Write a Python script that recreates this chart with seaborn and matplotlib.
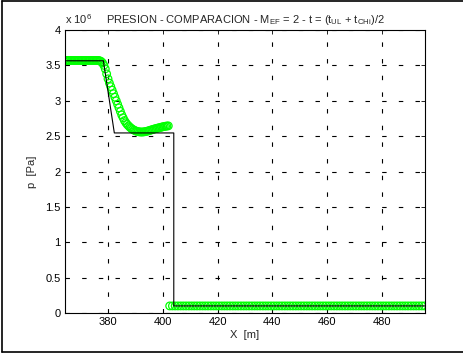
import numpy as np
import pandas as pd
import seaborn as sns
import matplotlib.pyplot as plt
from matplotlib.lines import Line2D

# --- datos (presion en unidades de 1e6 Pa) ---
# solucion exacta (linea negra)
x_exact = [364.3, 378.3, 382.3, 404.0, 404.0, 495.7]
p_exact = [3.565, 3.565, 2.545, 2.545, 0.100, 0.100]

# solucion numerica (circulos verdes), tramo superior
x_num_up = np.arange(364.5, 402.01, 0.5)
p_num_up = [3.57] * 25 + [
    3.565, 3.555, 3.535, 3.50, 3.45, 3.38, 3.31, 3.25, 3.20, 3.15,
    3.10, 3.05, 3.00, 2.95, 2.90, 2.85, 2.80, 2.76, 2.72, 2.69,
    2.665, 2.645, 2.625, 2.61, 2.595, 2.585, 2.575, 2.568, 2.563, 2.560,
    2.558, 2.558, 2.560, 2.563, 2.567, 2.572, 2.578, 2.584, 2.590, 2.596,
    2.602, 2.607, 2.612, 2.617, 2.622, 2.627, 2.632, 2.636, 2.640, 2.643,
    2.645,
]
# tramo inferior (presion constante)
x_num_low = np.arange(402.5, 495.6, 1.0)
p_num_low = [0.10] * len(x_num_low)

x_ticks = [380, 400, 420, 440, 460, 480]
y_ticks = [0, 0.5, 1, 1.5, 2, 2.5, 3, 3.5, 4]
y_ticklabels = ['0', '0.5', '1', '1.5', '2', '2.5', '3', '3.5', '4']

df_exact = pd.DataFrame({'x': x_exact, 'p': p_exact})
df_num = pd.DataFrame({'x': np.concatenate([x_num_up, x_num_low]),
                       'p': list(p_num_up) + list(p_num_low)})

sns.set_theme(style="white")
plt.rcParams['font.family'] = ['Liberation Sans', 'DejaVu Sans']
plt.rcParams['mathtext.fontset'] = 'custom'
plt.rcParams['mathtext.rm'] = 'Liberation Sans'
plt.rcParams['mathtext.it'] = 'Liberation Sans'

fig = plt.figure(figsize=(4.63, 3.53), dpi=100)
ax = fig.add_axes([0.1404, 0.1133, 0.7776, 0.8017])

sns.scatterplot(data=df_num, x='x', y='p', ax=ax, marker='o', s=30,
                facecolor='none', edgecolor='#00ff00', linewidth=0.9, zorder=2)
sns.lineplot(data=df_exact, x='x', y='p', ax=ax, sort=False, estimator=None,
             color='black', linewidth=0.8, zorder=3)

ax.set_xlim(364.3, 495.7)
ax.set_ylim(0, 4)
ax.set_xticks(x_ticks)
ax.set_yticks(y_ticks)
ax.set_yticklabels(y_ticklabels)
ax.set_axisbelow(True)
ax.grid(True, color='black', linestyle=(0, (4, 11)), linewidth=0.8)
ax.tick_params(direction='in', length=3, width=0.6, labelsize=8, colors='black',
               top=True, right=True, pad=3)
for s in ax.spines.values():
    s.set_color('black')
    s.set_linewidth(0.8)

ax.set_xlabel('X  [m]', fontsize=8, labelpad=2)
ax.set_ylabel('p  [Pa]', fontsize=8, labelpad=6)
ax.set_title(r'PRESION - COMPARACION - M$_{EF}$ = 2 - t = (t$_{UL}$ + t$_{CHi}$)/2',
             fontsize=8, pad=5)
ax.text(0.0, 1.015, r'x 10$^{6}$', transform=ax.transAxes, fontsize=8,
        ha='left', va='bottom')

# marco de la figura (izquierda, arriba, abajo)
for xs, ys in [([0.004, 0.004], [0.004, 0.996]),
               ([0.004, 1.0], [0.996, 0.996]),
               ([0.004, 1.0], [0.004, 0.004])]:
    fig.add_artist(Line2D(xs, ys, color='black', linewidth=1.2,
                          transform=fig.transFigure))

fig.savefig('out.png', dpi=100)
